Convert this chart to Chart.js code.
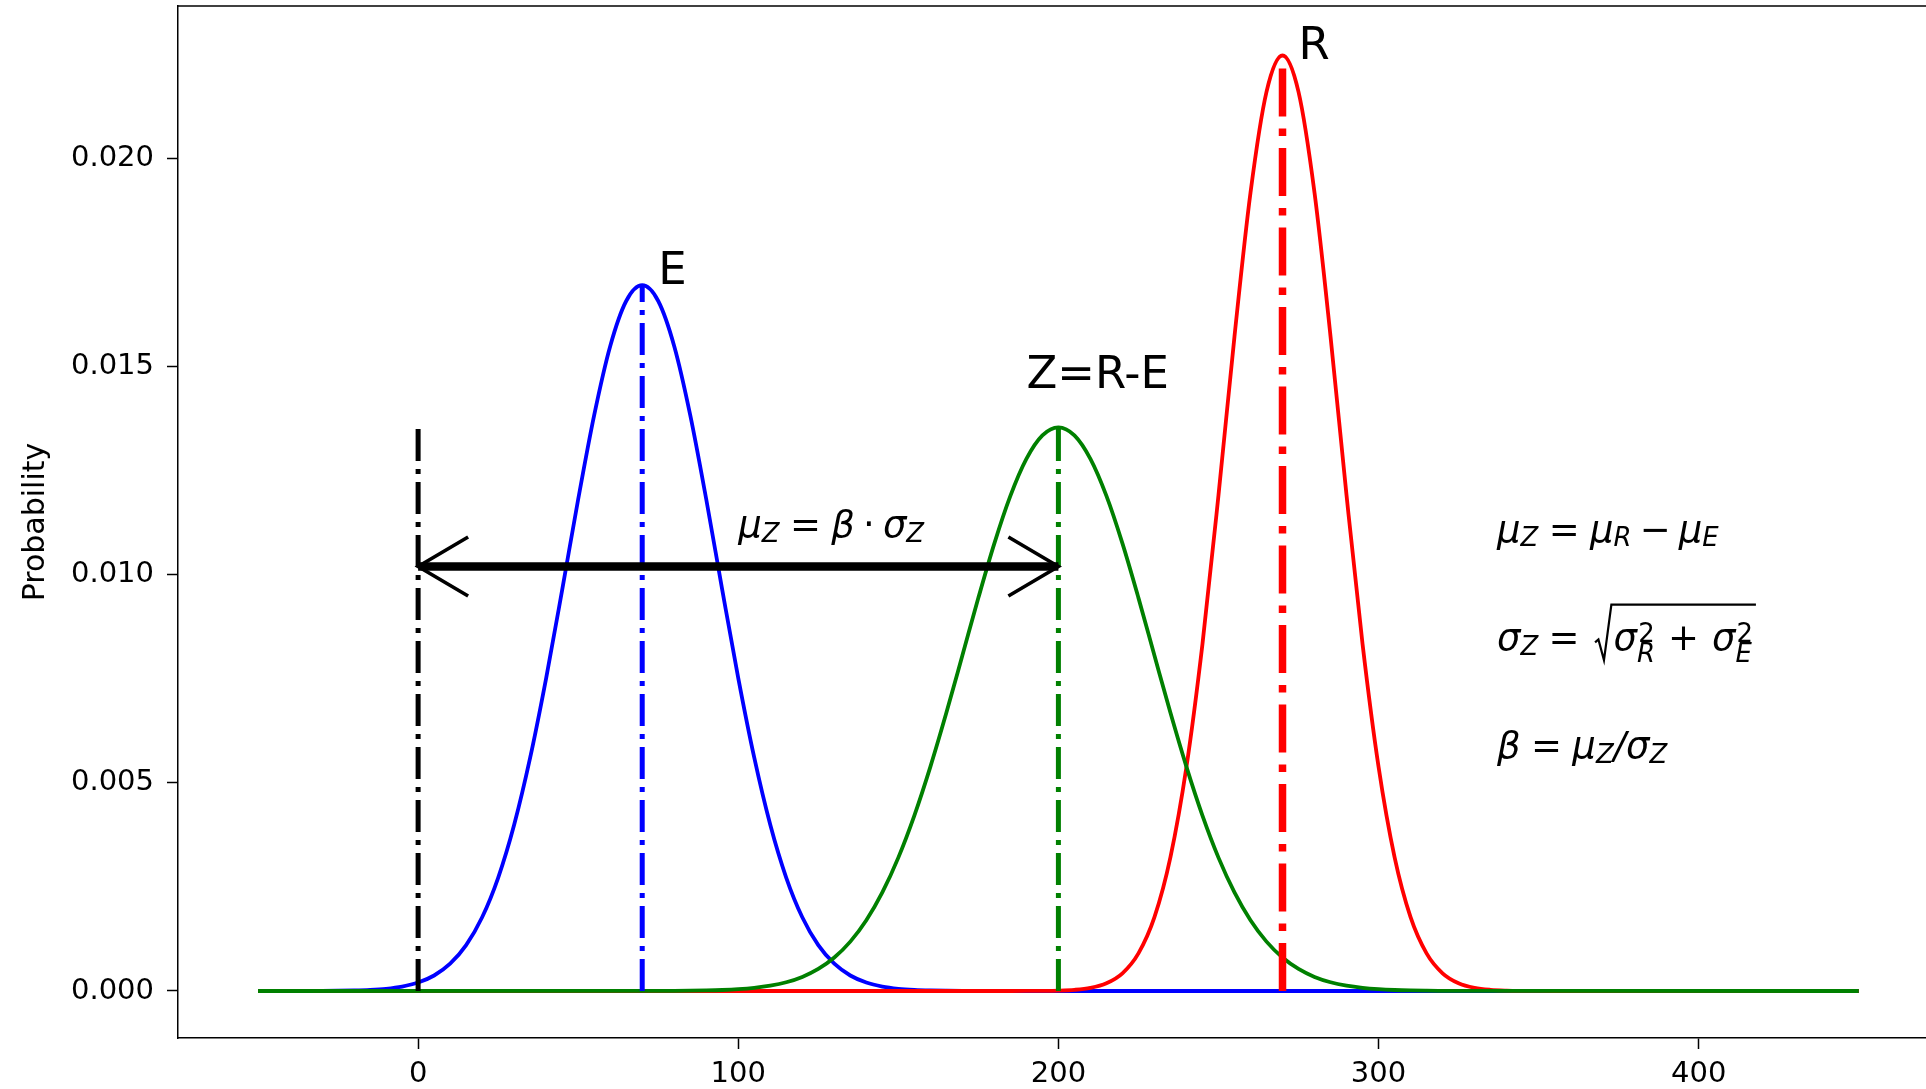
<!DOCTYPE html>
<html><head><meta charset="utf-8">
<script src="https://cdn.jsdelivr.net/npm/chart.js@4"></script>
<style>html,body{margin:0;padding:0;background:#fff;overflow:hidden}canvas{display:block}</style>
</head><body>
<canvas id="c" width="1926" height="1089"></canvas>
<script>
// ---------- data ----------
const eX = [-50,-40,-35,-30,-25,-20,-15,-10,-5,0,5,10,15,20,25,30,35,40,45,50,55,60,65,70,75,80,85,90,95,100,105,110,115,120,125,130,135,140,145,150,155,160,165,170,175,180,450];
const eValues = [0,0,0.0000008,0.000002,0.0000049,0.0000112,0.0000247,0.0000521,0.000105,0.000202,0.000372,0.000655,0.001102,0.001771,0.00272,0.003994,0.005606,0.007519,0.00964,0.011816,0.013839,0.015495,0.016581,0.01696,0.016581,0.015495,0.013839,0.011816,0.00964,0.007519,0.005606,0.003994,0.00272,0.001771,0.001102,0.000655,0.000372,0.000202,0.000105,0.0000521,0.0000247,0.0000112,0.0000049,0.000002,0.0000008,0,0];
const zX = [-50,70,75,80,85,90,95,100,105,110,115,120,125,130,135,140,145,150,155,160,165,170,175,180,185,190,195,200,205,210,215,220,225,230,235,240,245,250,255,260,265,270,275,280,285,290,295,300,305,310,315,320,325,330,450];
const zValues = [0,0.0000008,0.0000017,0.0000034,0.0000066,0.0000126,0.0000235,0.0000425,0.0000745,0.000127,0.00021,0.000338,0.000529,0.000804,0.001186,0.0017,0.002368,0.003205,0.004215,0.005386,0.006684,0.008062,0.009447,0.010756,0.011897,0.012786,0.013351,0.013545,0.013351,0.012786,0.011897,0.010756,0.009447,0.008062,0.006684,0.005386,0.004215,0.003205,0.002368,0.0017,0.001186,0.000804,0.000529,0.000338,0.00021,0.000127,0.0000745,0.0000425,0.0000235,0.0000126,0.0000066,0.0000034,0.0000017,0.0000008,0];
const rX = [-50,180,185,190,195,200,205,210,215,220,225,230,235,240,245,250,255,260,265,270,275,280,285,290,295,300,305,310,315,320,325,330,335,340,345,350,355,360,450];
const rValues = [0,0,0,0.000001,0.000003,0.0000094,0.0000275,0.0000742,0.000185,0.000425,0.000904,0.001774,0.003217,0.005388,0.008338,0.011914,0.015729,0.01918,0.021605,0.02248,0.021605,0.01918,0.015729,0.011914,0.008338,0.005388,0.003217,0.001774,0.000904,0.000425,0.000185,0.0000742,0.0000275,0.0000094,0.000003,0.000001,0,0,0];
const meanX = [0,70,200,270];
const meanTop = [0.01355,0.01696,0.01355,0.02248];
const arrowFromTo = [0,200];
const arrowLevel = 0.0102;
const xTicks = [0,100,200,300,400];
const xTickLabels = ['0','100','200','300','400'];
const yTicks = [0,0.005,0.01,0.015,0.02];
const yTickLabels = ['0.000','0.005','0.010','0.015','0.020'];
const yTitle = 'Probability';

// ---------- chart ----------
const FAM = '"DejaVu Sans"';
const pts = (xs, ys) => xs.map((x,i)=>({x:x, y:ys[i]}));
const vColors = ['#000000','#0000ff','#008000','#ff0000'];
const vWidths = [5,5,5,7.5];

const datasets = [];
meanX.forEach((m,i)=>{
  const w = vWidths[i];
  datasets.push({data:[{x:m,y:0},{x:m,y:meanTop[i]}], borderColor:vColors[i], borderWidth:w,
    borderDash:[6.4*w,1.6*w,1*w,1.6*w], borderCapStyle:'butt', order:1, tension:0});
});
datasets.push({data:pts(zX,zValues), borderColor:'#008000', borderWidth:3.8, cubicInterpolationMode:'monotone', order:2});
datasets.push({data:pts(rX,rValues), borderColor:'#ff0000', borderWidth:3.8, cubicInterpolationMode:'monotone', order:3});
datasets.push({data:pts(eX,eValues), borderColor:'#0000ff', borderWidth:3.8, cubicInterpolationMode:'monotone', order:4});

function fontStr(sz,it){return (it?'italic ':'')+sz+'px '+FAM;}
function seq(ctx,x,y,items,fs,dry){
  for(const p of items){
    if(p.sp!==undefined){x+=p.sp*fs;continue;}
    if(p.sqrt){
      const x0=x, start=x0+0.5*fs;
      const end=seq(ctx,start,y,p.sqrt,fs,true);
      if(!dry){
        seq(ctx,start,y,p.sqrt,fs,false);
        ctx.save();ctx.strokeStyle='#000';ctx.lineWidth=2.2;ctx.lineJoin='miter';
        ctx.beginPath();
        ctx.moveTo(x0,y-0.2*fs);ctx.lineTo(x0+0.09*fs,y-0.28*fs);
        ctx.lineTo(x0+0.24*fs,y+0.28*fs);ctx.lineTo(x0+0.44*fs,y-1.22*fs);
        ctx.lineTo(end+0.08*fs,y-1.22*fs);ctx.stroke();ctx.restore();
      }
      x=end+0.1*fs;continue;
    }
    ctx.font=fontStr(fs,p.it);
    if(!dry)ctx.fillText(p.t,x,y);
    x+=ctx.measureText(p.t).width;
    let adv=0;const s=fs*0.7;
    if(p.sup!==undefined){ctx.font=fontStr(s,false);if(!dry)ctx.fillText(p.sup,x+0.03*fs,y-0.2*fs);adv=Math.max(adv,ctx.measureText(p.sup).width+0.03*fs);}
    if(p.sub!==undefined){ctx.font=fontStr(s,true);const dy=p.sup!==undefined?0.33*fs:0.13*fs;if(!dry)ctx.fillText(p.sub,x,y+dy);adv=Math.max(adv,ctx.measureText(p.sub).width);}
    x+=adv;
  }
  return x;
}
const MFS = 37;
const formulaMid = [{t:'μ',it:true,sub:'Z'},{sp:0.28},{t:'='},{sp:0.28},{t:'β',it:true},{sp:0.22},{t:'·'},{sp:0.22},{t:'σ',it:true,sub:'Z'}];
const formula1 = [{t:'μ',it:true,sub:'Z'},{sp:0.28},{t:'='},{sp:0.28},{t:'μ',it:true,sub:'R'},{sp:0.22},{t:'−'},{sp:0.22},{t:'μ',it:true,sub:'E'}];
const formula2 = [{t:'σ',it:true,sub:'Z'},{sp:0.28},{t:'='},{sp:0.42},{sqrt:[{t:'σ',it:true,sup:'2',sub:'R'},{sp:0.35},{t:'+'},{sp:0.35},{t:'σ',it:true,sup:'2',sub:'E'}]}];
const formula3 = [{t:'β',it:true},{sp:0.28},{t:'='},{sp:0.28},{t:'μ',it:true,sub:'Z'},{t:'/',it:true},{t:'σ',it:true,sub:'Z'}];

const annot = {
  id:'annot',
  afterDatasetsDraw(chart){
    const {ctx, chartArea:a, scales:{x:sx,y:sy}} = chart;
    ctx.save();
    // top spine
    ctx.strokeStyle='#000';ctx.lineWidth=1.5;
    ctx.beginPath();ctx.moveTo(a.left,a.top);ctx.lineTo(chart.width,a.top);ctx.stroke();
    // arrow
    const ax0=sx.getPixelForValue(arrowFromTo[0]), ax1=sx.getPixelForValue(arrowFromTo[1]), ay=sy.getPixelForValue(arrowLevel);
    ctx.lineWidth=8.5;ctx.lineCap='butt';
    ctx.beginPath();ctx.moveTo(ax0,ay);ctx.lineTo(ax1,ay);ctx.stroke();
    ctx.lineWidth=3.6;ctx.lineJoin='miter';
    const hx=50, hy=29.5;
    ctx.beginPath();ctx.moveTo(ax0+hx,ay-hy);ctx.lineTo(ax0,ay);ctx.lineTo(ax0+hx,ay+hy);ctx.stroke();
    ctx.beginPath();ctx.moveTo(ax1-hx,ay-hy);ctx.lineTo(ax1,ay);ctx.lineTo(ax1-hx,ay+hy);ctx.stroke();
    // labels
    ctx.fillStyle='#000';ctx.textBaseline='alphabetic';ctx.textAlign='left';
    ctx.font='45px '+FAM;
    ctx.fillText('E',sx.getPixelForValue(75),sy.getPixelForValue(0.017));
    ctx.fillText('Z=R-E',sx.getPixelForValue(190),sy.getPixelForValue(0.0145));
    ctx.fillText('R',sx.getPixelForValue(275),sy.getPixelForValue(0.0224));
    seq(ctx,sx.getPixelForValue(100),sy.getPixelForValue(0.0109),formulaMid,MFS);
    const fx=sx.getPixelForValue(337);
    seq(ctx,fx,sy.getPixelForValue(0.0108),formula1,MFS);
    seq(ctx,fx,sy.getPixelForValue(0.0082),formula2,MFS);
    seq(ctx,fx,sy.getPixelForValue(0.0056),formula3,MFS);
    ctx.restore();
  }
};

function fixH(s){s.height=51;s.paddingLeft=0;s.paddingRight=0;s.paddingTop=0;s.paddingBottom=0;}
function fixV(s){s.width=178;s.paddingLeft=0;s.paddingRight=0;s.paddingTop=0;s.paddingBottom=0;}

new Chart(document.getElementById('c'), {
  type:'line',
  data:{datasets:datasets},
  options:{
    responsive:false, animation:false, devicePixelRatio:1,
    layout:{padding:{top:6,left:0,right:0,bottom:0}},
    plugins:{legend:{display:false},tooltip:{enabled:false}},
    elements:{point:{radius:0,hoverRadius:0},line:{fill:false}},
    scales:{
      x:{type:'linear',min:-75,max:471,
        afterFit:fixH,
        afterBuildTicks(s){s.ticks=xTicks.map(v=>({value:v}));},
        ticks:{callback:(v)=>xTickLabels[xTicks.indexOf(v)],font:{family:'DejaVu Sans',size:29},color:'#000',padding:8,maxRotation:0,autoSkip:false},
        grid:{drawOnChartArea:false,drawTicks:true,tickLength:11,tickColor:'#000',tickWidth:1.5},
        border:{display:true,color:'#000',width:1.5}},
      y:{type:'linear',min:-0.00113,max:0.02367,
        afterFit:fixV,
        afterBuildTicks(s){s.ticks=yTicks.map(v=>({value:v}));},
        ticks:{callback:(v)=>yTickLabels[yTicks.findIndex(t=>Math.abs(t-v)<1e-9)],font:{family:'DejaVu Sans',size:29},color:'#000',padding:13},
        title:{display:true,text:yTitle,font:{family:'DejaVu Sans',size:30},color:'#000',padding:{top:18,bottom:0}},
        grid:{drawOnChartArea:false,drawTicks:true,tickLength:11,tickColor:'#000',tickWidth:1.5},
        border:{display:true,color:'#000',width:1.5}}
    }
  },
  plugins:[annot]
});
</script>
</body></html>
